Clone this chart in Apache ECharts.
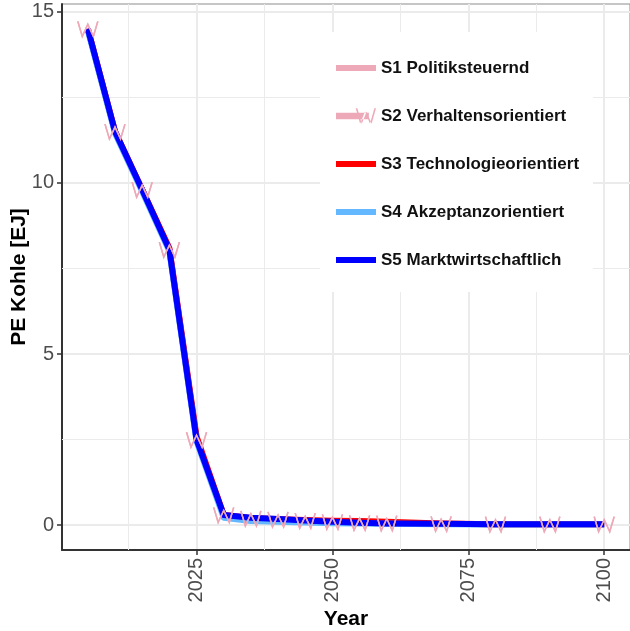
<!DOCTYPE html>
<html>
<head>
<meta charset="utf-8">
<script src="https://cdn.jsdelivr.net/npm/echarts@6/dist/echarts.min.js"></script>
<style>
  html, body { margin: 0; padding: 0; background: #fff; }
  #chart { width: 630px; height: 631px; }
</style>
</head>
<body>
<div id="chart"></div>
<script>
// Primary energy from coal per scenario, 2005-2100
const years = [2005, 2010, 2015, 2020, 2025, 2030, 2035, 2040, 2045, 2050, 2055, 2060, 2070, 2080, 2090, 2100];

const s1Politik      = [14.5, 11.5, 9.8, 8.05, 2.5, 0.3, 0.22, 0.18, 0.14, 0.1, 0.07, 0.05, 0.04, 0.03, 0.03, 0.03];
const s2Verhalten    = [14.5, 11.5, 9.8, 8.05, 2.5, 0.3, 0.2, 0.17, 0.13, 0.1, 0.07, 0.06, 0.04, 0.03, 0.03, 0.03];
const s3Technologie  = [14.5, 11.5, 9.8, 8.1, 2.6, 0.3, 0.2, 0.17, 0.15, 0.13, 0.12, 0.1, 0.05, 0.03, 0.03, 0.03];
const s4Akzeptanz    = [14.45, 11.45, 9.75, 8.0, 2.45, 0.22, 0.12, 0.1, 0.08, 0.06, 0.05, 0.04, 0.03, 0.02, 0.02, 0.02];
const s5Markt        = [14.5, 11.5, 9.8, 8.05, 2.5, 0.3, 0.22, 0.18, 0.14, 0.1, 0.07, 0.05, 0.04, 0.03, 0.03, 0.03];

const scenarioNames = [
  'S1 Politiksteuernd',
  'S2 Verhaltensorientiert',
  'S3 Technologieorientiert',
  'S4 Akzeptanzorientiert',
  'S5 Marktwirtschaftlich'
];

const xTicks = [2025, 2050, 2075, 2100];
const xMinorGrid = [2012.5, 2037.5, 2062.5, 2087.5];
const yTicks = [0, 5, 10, 15];
const yMinorGrid = [2.5, 7.5, 12.5];

const pink = '#EEA9B8';
const red = '#FF0000';
const lightBlue = '#63B8FF';
const blue = '#0000FF';
const gridColor = '#EBEBEB';
const font = 'Liberation Sans, Arial, sans-serif';

const pairs = vals => years.map((y, i) => [y, vals[i]]);
const wSymbol = 'path://M0,0 L4,15 L9,3 L14,15 L18,0';

// legend keys: a plain bar, and a bar with a thin "W" over it
const barIcon = 'path://M0,0 L40,0 L40,6 L0,6 Z';
function seg(ax, ay, bx, by, t) {
  return 'M' + ax + ',' + ay + ' L' + (ax + t) + ',' + ay + ' L' + (bx + t) + ',' + by + ' L' + bx + ',' + by + ' Z ';
}
const barWIcon = 'path://M0,7 L30,7 L30,13 L0,13 Z ' +
  seg(18, 3, 22, 17, 1.5) + seg(22, 17, 26.5, 6, 1.5) + seg(26.5, 6, 31, 17, 1.5) + seg(31, 17, 35, 3, 1.5);

const seriesColors = [pink, pink, red, lightBlue, blue];
const legendIcons = [barIcon, barWIcon, barIcon, barIcon, barIcon];

function lineSeries(name, vals, color, extra) {
  return Object.assign({
    name: name,
    type: 'line',
    data: pairs(vals),
    color: color,
    symbol: 'none',
    lineStyle: { color: color, width: 6, cap: 'butt', join: 'round' },
    emphasis: { disabled: true },
    animation: false
  }, extra || {});
}

const chart = echarts.init(document.getElementById('chart'), null, { renderer: 'canvas' });

chart.setOption({
  backgroundColor: '#fff',
  animation: false,
  textStyle: { fontFamily: font },
  grid: {
    left: 62, right: 0, top: 4, bottom: 81,
    outerBoundsMode: 'none',
    containLabel: false,
    show: true, borderColor: '#8c8c8c', borderWidth: 1, backgroundColor: '#fff'
  },
  legend: {
    orient: 'vertical',
    left: 320, top: 32,
    data: scenarioNames.map((n, i) => ({
      name: n,
      icon: legendIcons[i],
      itemStyle: { color: seriesColors[i], borderWidth: 0 }
    })),
    backgroundColor: '#fff',
    padding: [26, 14, 22, 16],
    itemWidth: 40, itemHeight: 20,
    itemGap: 28,
    textStyle: { fontFamily: font, fontWeight: 'bold', fontSize: 17, color: '#111', lineHeight: 20 },
    selectedMode: false
  },
  xAxis: {
    type: 'value',
    min: 2000.25, max: 2104.75,
    name: 'Year',
    nameLocation: 'middle',
    nameGap: 59,
    nameMoveOverlap: false,
    nameTextStyle: { fontFamily: font, fontWeight: 'bold', fontSize: 21, color: '#000' },
    axisLine: { show: true, onZero: false, lineStyle: { color: '#333', width: 2 } },
    axisTick: { show: true, length: 5, customValues: xTicks, lineStyle: { color: '#333', width: 1.5 } },
    axisLabel: {
      customValues: xTicks, rotate: 90, margin: 8, fontSize: 20, color: '#4D4D4D', fontFamily: font,
      formatter: v => String(v)
    },
    splitLine: { show: true, lineStyle: { color: gridColor, width: 2 } }
  },
  yAxis: {
    type: 'value',
    min: -0.725, max: 15.225,
    name: 'PE Kohle [EJ]',
    nameLocation: 'middle',
    nameGap: 32,
    nameMoveOverlap: false,
    nameTextStyle: { fontFamily: font, fontWeight: 'bold', fontSize: 21, color: '#000' },
    axisLine: { show: true, onZero: false, lineStyle: { color: '#333', width: 2 } },
    axisTick: { show: true, length: 5, customValues: yTicks, lineStyle: { color: '#333', width: 1.5 } },
    axisLabel: {
      customValues: yTicks, margin: 8, fontSize: 20, color: '#4D4D4D', fontFamily: font,
      formatter: v => String(v)
    },
    splitLine: { show: true, lineStyle: { color: gridColor, width: 2 } }
  },
  series: [
    lineSeries(scenarioNames[0], s1Politik, pink, {
      z: 2,
      markLine: {
        silent: true,
        symbol: 'none',
        label: { show: false },
        lineStyle: { color: gridColor, width: 1, type: 'solid' },
        data: xMinorGrid.map(v => ({ xAxis: v })).concat(yMinorGrid.map(v => ({ yAxis: v }))),
        animation: false,
        z: 1
      }
    }),
    lineSeries(scenarioNames[1], s2Verhalten, pink, {
      symbol: wSymbol,
      symbolSize: [20, 15],
      showSymbol: true,
      itemStyle: { color: 'rgba(0,0,0,0)', borderColor: pink, borderWidth: 1.3 }
    }),
    lineSeries(scenarioNames[2], s3Technologie, red),
    lineSeries(scenarioNames[3], s4Akzeptanz, lightBlue),
    lineSeries(scenarioNames[4], s5Markt, blue),
    // W markers of S2 repeated above the other lines
    lineSeries(scenarioNames[1], s2Verhalten, pink, {
      z: 5,
      symbol: wSymbol,
      symbolSize: [20, 15],
      showSymbol: true,
      lineStyle: { width: 0, opacity: 0 },
      itemStyle: { color: 'rgba(0,0,0,0)', borderColor: pink, borderWidth: 1.3 }
    })
  ]
});
</script>
</body>
</html>
